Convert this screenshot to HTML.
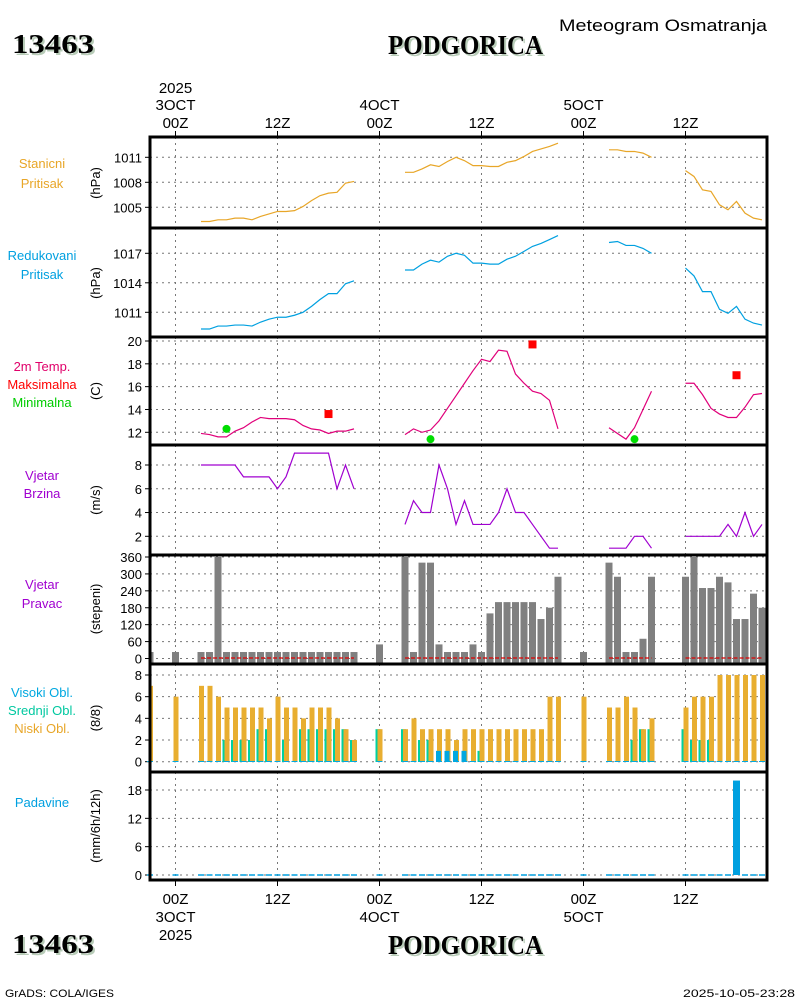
<!DOCTYPE html>
<html><head><meta charset="utf-8"><style>
html,body{margin:0;padding:0;background:#fff;}
svg{display:block;font-family:"Liberation Sans",sans-serif;}
</style></head><body>
<svg id="chart" width="800" height="1000" viewBox="0 0 800 1000" xmlns="http://www.w3.org/2000/svg">
<rect x="0" y="0" width="800" height="1000" fill="#fff"/>
<g>
<text x="14" y="55" font-family="Liberation Serif,serif" font-weight="bold" font-size="27" fill="#b8ccb8" textLength="82" lengthAdjust="spacingAndGlyphs">13463</text>
<text x="12" y="53" font-family="Liberation Serif,serif" font-weight="bold" font-size="27" fill="#000" textLength="82" lengthAdjust="spacingAndGlyphs">13463</text>
<text x="390" y="56" font-family="Liberation Serif,serif" font-weight="bold" font-size="27" fill="#b8ccb8" textLength="155" lengthAdjust="spacingAndGlyphs">PODGORICA</text>
<text x="388" y="54" font-family="Liberation Serif,serif" font-weight="bold" font-size="27" fill="#000" textLength="155" lengthAdjust="spacingAndGlyphs">PODGORICA</text>
<text x="559" y="31" font-size="17" fill="#000" textLength="208" lengthAdjust="spacingAndGlyphs">Meteogram Osmatranja</text>
</g>
<g>
<text x="14" y="955" font-family="Liberation Serif,serif" font-weight="bold" font-size="27" fill="#b8ccb8" textLength="82" lengthAdjust="spacingAndGlyphs">13463</text>
<text x="12" y="953" font-family="Liberation Serif,serif" font-weight="bold" font-size="27" fill="#000" textLength="82" lengthAdjust="spacingAndGlyphs">13463</text>
<text x="390" y="956" font-family="Liberation Serif,serif" font-weight="bold" font-size="27" fill="#b8ccb8" textLength="155" lengthAdjust="spacingAndGlyphs">PODGORICA</text>
<text x="388" y="954" font-family="Liberation Serif,serif" font-weight="bold" font-size="27" fill="#000" textLength="155" lengthAdjust="spacingAndGlyphs">PODGORICA</text>
<text x="5" y="997" font-size="11" fill="#000" textLength="109" lengthAdjust="spacingAndGlyphs">GrADS: COLA/IGES</text>
<text x="795" y="997" text-anchor="end" font-size="11" fill="#000" textLength="112" lengthAdjust="spacingAndGlyphs">2025-10-05-23:28</text>
</g>
<g id="plots"></g>
</svg>
<script>
// ---- data ----
const lineHours = [3,4,5,6,7,8,9,10,11,12,13,14,15,16,17,18,19,20,21,
 27,28,29,30,31,32,33,34,35,36,37,38,39,40,41,42,43,44,45,
 51,52,53,54,55,56, 60,61,62,63,64,65,66,67,68,69];
const stationPressure = [1003.3,1003.3,1003.5,1003.5,1003.7,1003.7,1003.5,1003.9,1004.2,1004.5,1004.5,1004.6,1005.1,1005.8,1006.4,1006.7,1006.8,1007.9,1008.1,
 1009.2,1009.2,1009.6,1010.1,1009.9,1010.5,1011.0,1010.6,1010.0,1010.0,1009.9,1009.9,1010.4,1010.6,1011.1,1011.7,1012.0,1012.3,1012.7,
 1011.9,1011.9,1011.7,1011.7,1011.5,1011.0,
 1009.4,1008.7,1007.1,1006.9,1005.3,1004.7,1005.7,1004.3,1003.7,1003.5];
const reducedPressure = [1009.3,1009.3,1009.6,1009.6,1009.7,1009.7,1009.6,1010.0,1010.3,1010.5,1010.5,1010.7,1011.0,1011.6,1012.3,1012.9,1012.9,1013.9,1014.2,
 1015.3,1015.3,1015.9,1016.3,1016.1,1016.7,1017.0,1016.8,1016.0,1016.0,1015.9,1015.9,1016.4,1016.7,1017.2,1017.7,1018.0,1018.4,1018.8,
 1018.1,1018.2,1017.8,1017.8,1017.5,1017.0,
 1015.5,1014.7,1013.1,1013.1,1011.3,1010.9,1011.6,1010.3,1009.9,1009.7];
const temperature = [11.9,11.8,11.6,11.6,12.1,12.4,12.9,13.3,13.2,13.2,13.2,13.1,12.6,12.3,12.2,11.9,12.1,12.1,12.3,
 11.8,12.3,12.0,12.2,13.0,14.1,15.2,16.3,17.4,18.4,18.2,19.2,19.1,17.1,16.3,15.6,15.4,14.8,12.3,
 12.4,11.9,11.4,12.4,14.0,15.6,
 16.3,16.3,15.3,14.1,13.6,13.3,13.3,14.2,15.3,15.4];
const windSpeed = [8,8,8,8,8,7,7,7,7,6,7,9,9,9,9,9,6,8,6,
 3,5,4,4,8,6,3,5,3,3,3,4,6,4,4,3,2,1,1,
 1,1,1,2,2,1,
 2,2,2,2,2,3,2,4,2,3];
const maxHours = [18,42,66];
const maxTemps = [13.6,19.7,17.0];
const minHours = [6,30,54];
const minTemps = [12.3,11.4,11.4];
const barHours = [-3,0,3,4,5,6,7,8,9,10,11,12,13,14,15,16,17,18,19,20,21,24,
 27,28,29,30,31,32,33,34,35,36,37,38,39,40,41,42,43,44,45,48,
 51,52,53,54,55,56,60,61,62,63,64,65,66,67,68,69];
const windDir = [23,23,23,23,360,23,23,23,23,23,23,23,23,23,23,23,23,23,23,23,23,50,
 360,23,340,340,50,23,23,23,50,23,160,200,200,200,200,200,140,180,290,23,
 340,290,23,23,70,290,290,360,250,250,290,270,140,140,230,180];
const lowCloud = [7,6,7,7,6,5,5,5,5,5,4,6,5,5,4,5,5,5,4,3,2,3,
 3,4,3,3,3,3,2,3,3,3,3,3,3,3,3,3,3,6,6,6,
 5,5,6,5,3,4,5,6,6,6,8,8,8,8,8,8];
const midCloud = [0,0,0,0,0,2,2,2,2,3,3,0,2,0,3,3,3,3,3,3,2,3,
 3,0,2,2,0,0,0,0,0,1,0,0,0,0,0,0,0,0,0,0,
 0,0,0,2,3,3,3,2,2,2,0,0,0,0,0,0];
const highCloud = [0,0,0,0,0,0,0,0,0,0,0,0,0,0,0,0,0,0,0,0,0,0,
 0,0,0,0,1,1,1,1,0,0,0,0,0,0,0,0,0,0,0,0,
 0,0,0,0,0,0,0,0,0,0,0,0,0,0,0,0];
const precip = [0,0,0,0,0,0,0,0,0,0,0,0,0,0,0,0,0,0,0,0,0,0,
 0,0,0,0,0,0,0,0,0,0,0,0,0,0,0,0,0,0,0,0,
 0,0,0,0,0,0,0,0,0,0,0,0,20,0,0,0];
const timeTickHours = [0,12,24,36,48,60];
const timeTickLabels = ["00Z","12Z","00Z","12Z","00Z","12Z"];
const presTicks1 = [1005,1008,1011];
const presTicks2 = [1011,1014,1017];
const tempTicks = [12,14,16,18,20];
const windTicks = [2,4,6,8];
const dirTicks = [0,60,120,180,240,300,360];
const cloudTicks = [0,2,4,6,8];
const precipTicks = [0,6,12,18];

// ---- layout ----
const NS = "http://www.w3.org/2000/svg";
const root = document.getElementById('plots');
const X0 = 150, X1 = 767;
const xOf = h => 175.5 + h * 8.5;
function el(tag, attrs, parent) {
  const e = document.createElementNS(NS, tag);
  for (const k in attrs) e.setAttribute(k, attrs[k]);
  (parent || root).appendChild(e);
  return e;
}
function txt(x, y, s, attrs, parent) {
  const t = el('text', Object.assign({x: x, y: y}, attrs), parent);
  t.textContent = s;
  return t;
}
// value vTop maps to pixel yTop, value vBot maps to pixel yBot
function makeY(yTop, yBot, vTop, vBot) {
  return v => yTop + (vTop - v) / (vTop - vBot) * (yBot - yTop);
}
function panel(name, top, bot, yf, ticks) {
  const g = el('g', {});
  
  
  timeTickHours.forEach(h => {
    const l = el('line', {x1: xOf(h), x2: xOf(h), y1: top, y2: bot, stroke: '#777', 'stroke-width': 1, 'stroke-dasharray': '2,4'}, g);
    
    
  });
  ticks.forEach(v => {
    const y = yf(v);
    const l = el('line', {x1: X0, x2: X1, y1: y, y2: y, stroke: '#777', 'stroke-width': 1, 'stroke-dasharray': '2,4'}, g);
    
    
    el('line', {x1: X0 - 5, x2: X0, y1: y, y2: y, stroke: '#000', 'stroke-width': 1}, g);
    const t = txt(142, y + 5, String(v), {'text-anchor': 'end', 'font-size': 13, fill: '#000'}, g);
    
    
  });
  return g;
}
function segments(hours, vals) {
  const segs = []; let cur = [];
  hours.forEach((h, i) => {
    if (cur.length && h - cur[cur.length - 1][0] > 1) { segs.push(cur); cur = []; }
    cur.push([h, vals[i]]);
  });
  if (cur.length) segs.push(cur);
  return segs;
}
function lineSeries(g, name, hours, vals, yf, color) {
  segments(hours, vals).forEach(seg => {
    const p = el('polyline', {points: seg.map(d => xOf(d[0]) + ',' + yf(d[1])).join(' '), fill: 'none', stroke: color, 'stroke-width': 1.2}, g);
    
    
  });
}
function sideLabel(lines, ys, colors, axisTitle, axisY) {
  lines.forEach((s, i) => {
    const t = txt(42, ys[i], s, {'text-anchor': 'middle', 'font-size': 13, fill: colors[i]});
    
    
  });
  const a = txt(100, axisY, axisTitle, {'text-anchor': 'middle', 'font-size': 13, fill: '#000', transform: 'rotate(-90 100 ' + axisY + ')'});
  
  
}

// Panel 1: station pressure
{
  const yf = makeY(157.3, 207.3, 1011, 1005);
  const g = panel('station-pressure-panel', 137, 228, yf, presTicks1);
  lineSeries(g, 'station-pressure-line', lineHours, stationPressure, yf, '#e8a628');
  sideLabel(['Stanicni', 'Pritisak'], [168, 188], ['#e8a628', '#e8a628'], '(hPa)', 183);
}
// Panel 2: reduced pressure
{
  const yf = makeY(253.3, 312.3, 1017, 1011);
  const g = panel('reduced-pressure-panel', 228, 337, yf, presTicks2);
  lineSeries(g, 'reduced-pressure-line', lineHours, reducedPressure, yf, '#00a0e0');
  sideLabel(['Redukovani', 'Pritisak'], [260, 279], ['#00a0e0', '#00a0e0'], '(hPa)', 283);
}
// Panel 3: temperature
{
  const yf = makeY(341, 432.3, 20, 12);
  const g = panel('temperature-panel', 337, 445, yf, tempTicks);
  lineSeries(g, 'temperature-line', lineHours, temperature, yf, '#e0007a');
  maxHours.forEach((h, i) => {
    const r = el('rect', {x: xOf(h) - 4, y: yf(maxTemps[i]) - 4, width: 8, height: 8, fill: '#ff0000'}, g);
    
    
  });
  minHours.forEach((h, i) => {
    const c = el('circle', {cx: xOf(h), cy: yf(minTemps[i]), r: 4, fill: '#00dd00'}, g);
    
    
  });
  sideLabel(['2m Temp.', 'Maksimalna', 'Minimalna'], [371, 389, 407], ['#e0006a', '#ff0000', '#00cc00'], '(C)', 391);
}
// Panel 4: wind speed
{
  const yf = makeY(465, 536.3, 8, 2);
  const g = panel('wind-speed-panel', 445, 555, yf, windTicks);
  lineSeries(g, 'wind-speed-line', lineHours, windSpeed, yf, '#a000d0');
  sideLabel(['Vjetar', 'Brzina'], [480, 498], ['#a000d0', '#a000d0'], '(m/s)', 500);
}
// Panel 5: wind direction
{
  const yf = makeY(557, 658.5, 360, 0);
  const g = panel('wind-direction-panel', 555, 664, yf, dirTicks);
  barHours.forEach((h, i) => {
    const x = Math.max(X0, xOf(h) - 3.5);
    const w = xOf(h) + 3.5 - x;
    const r = el('rect', {x: x, y: yf(windDir[i]), width: w, height: 663 - yf(windDir[i]), fill: '#808080'}, g);
    
    
  });
  segments(lineHours, windSpeed).forEach(seg => {
    const l = el('line', {x1: xOf(seg[0][0]), x2: xOf(seg[seg.length - 1][0]), y1: 658, y2: 658, stroke: '#e00000', 'stroke-width': 1.2, 'stroke-dasharray': '4,2'}, g);
    
    
  });
  sideLabel(['Vjetar', 'Pravac'], [589, 608], ['#a000d0', '#a000d0'], '(stepeni)', 609);
}
// Panel 6: clouds
{
  const yf = makeY(675, 761.7, 8, 0);
  const g = panel('cloud-panel', 664, 772, yf, cloudTicks);
  barHours.forEach((h, i) => {
    const c = xOf(h);
    if (midCloud[i] > 0) {
      const r = el('rect', {x: c - 4, y: yf(midCloud[i]), width: 5, height: 762 - yf(midCloud[i]), fill: '#00d0a0'}, g);
      
      
    }
    if (lowCloud[i] > 0) {
      const x = Math.max(X0, c - 2);
      const r = el('rect', {x: x, y: yf(lowCloud[i]), width: c + 3 - x, height: 762 - yf(lowCloud[i]), fill: '#e8ae30'}, g);
      
      
    }
    if (highCloud[i] > 0) {
      const r = el('rect', {x: c - 3, y: yf(highCloud[i]), width: 5, height: 762 - yf(highCloud[i]), fill: '#00a8e0'}, g);
      
      
    }
    const d = el('line', {x1: c - 3, x2: c + 3, y1: 761.5, y2: 761.5, stroke: '#00a8e0', 'stroke-width': 1}, g);
    
    
  });
  sideLabel(['Visoki Obl.', 'Srednji Obl.', 'Niski Obl.'], [697, 715, 733], ['#00a8e0', '#00c8a0', '#e8a628'], '(8/8)', 718);
}
// Panel 7: precipitation
{
  const yf = makeY(790, 875, 18, 0);
  const g = panel('precipitation-panel', 772, 880, yf, precipTicks);
  barHours.forEach((h, i) => {
    const c = xOf(h);
    if (precip[i] > 0) {
      const r = el('rect', {x: c - 3.5, y: yf(precip[i]), width: 7, height: 875 - yf(precip[i]), fill: '#00a0e0'}, g);
      
      
    } else {
      const d = el('line', {x1: c - 3, x2: c + 3, y1: 875, y2: 875, stroke: '#00a0e0', 'stroke-width': 1.5}, g);
      
      
    }
  });
  sideLabel(['Padavine'], [807], ['#00a0e0'], '(mm/6h/12h)', 826);
}

// borders
[137, 228, 337, 445, 555, 664, 772, 880].forEach(y => {
  const l = el('line', {x1: X0 - 1.5, x2: X1 + 1.5, y1: y, y2: y, stroke: '#000', 'stroke-width': 3});
  
  
});
[X0, X1].forEach(x => {
  const l = el('line', {x1: x, x2: x, y1: 137, y2: 880, stroke: '#000', 'stroke-width': 3});
  
  
});
// time axis labels
const dateTop = {0: ['2025', '3OCT'], 24: ['4OCT'], 48: ['5OCT']};
timeTickHours.forEach((h, i) => {
  const x = xOf(h);
  el('line', {x1: x, x2: x, y1: 131, y2: 137, stroke: '#000', 'stroke-width': 1});
  el('line', {x1: x, x2: x, y1: 880, y2: 886, stroke: '#000', 'stroke-width': 1});
  const t1 = txt(x, 128, timeTickLabels[i], {'text-anchor': 'middle', 'font-size': 15, fill: '#000'});
  
  
  const t2 = txt(x, 904, timeTickLabels[i], {'text-anchor': 'middle', 'font-size': 15, fill: '#000'});
  
  
  if (dateTop[h]) {
    const d = dateTop[h];
    if (d.length === 2) {
      txt(x, 93, d[0], {'text-anchor': 'middle', 'font-size': 15, fill: '#000'});
      txt(x, 110, d[1], {'text-anchor': 'middle', 'font-size': 15, fill: '#000'});
      txt(x, 922, d[1], {'text-anchor': 'middle', 'font-size': 15, fill: '#000'});
      txt(x, 940, d[0], {'text-anchor': 'middle', 'font-size': 15, fill: '#000'});
    } else {
      txt(x, 110, d[0], {'text-anchor': 'middle', 'font-size': 15, fill: '#000'});
      txt(x, 922, d[0], {'text-anchor': 'middle', 'font-size': 15, fill: '#000'});
    }
  }
});
</script>
</body></html>
